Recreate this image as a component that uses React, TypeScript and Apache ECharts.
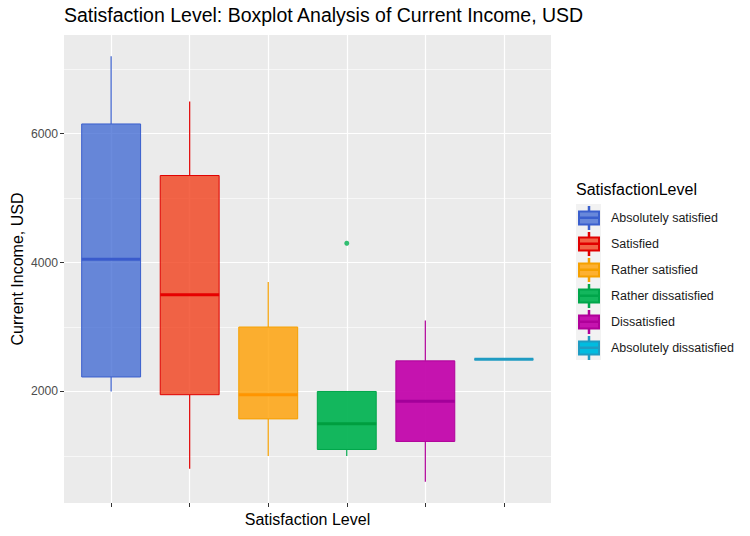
import React, { useEffect, useRef } from "react";
import * as echarts from "echarts";

// satisfaction levels, in axis order
const levels = [
  "Absolutely satisfied",
  "Satisfied",
  "Rather satisfied",
  "Rather dissatisfied",
  "Dissatisfied",
  "Absolutely dissatisfied",
];

// [lower whisker, Q1, median, Q3, upper whisker] per level, USD
const boxStats = [
  [2000, 2225, 4050, 6150, 7200],
  [800, 1950, 3500, 5350, 6500],
  [1000, 1575, 1950, 3000, 3700],
  [1000, 1100, 1500, 2000, 2000],
  [600, 1225, 1850, 2475, 3100],
  [2500, 2500, 2500, 2500, 2500],
];

// outliers: [level position, value]
const outliers = [[4, 4300]];

const yTicks = [2000, 4000, 6000];
const yMinorLines = [1000, 3000, 5000, 7000];

const fills = [
  "rgba(58,100,210,0.75)",
  "rgba(241,64,27,0.8)",
  "rgba(255,159,0,0.8)",
  "rgba(0,178,80,0.92)",
  "rgba(193,0,169,0.92)",
  "rgba(0,188,224,1)",
];
const strokes = ["#3A5FCD", "#E00000", "#F5A000", "#00A64A", "#B0009A", "#1F9BC2"];
const medians = ["#3A5BCC", "#E60000", "#FF9500", "#009E3F", "#A3009A", "#1F9BC2"];

const BOX_WIDTH = 0.75;
const FONT = "Liberation Sans, Arial, sans-serif";
const legendIcon =
  "path://M0,4.5 H20 V17.5 H0 Z M0,10.5 H20 V11 H0 Z M9.75,0 H10.25 V4.5 H9.75 Z M9.75,17.5 H10.25 V22 H9.75 Z";

const App: React.FC = () => {
  const chartRef = useRef<HTMLDivElement>(null);

  useEffect(() => {
    document.body.style.margin = "0";
    if (!chartRef.current) return;
    const chart = echarts.init(chartRef.current, undefined, { renderer: "svg" });

    const boxSeries = levels.map((name, i) => ({
      name,
      type: "custom" as const,
      itemStyle: { color: fills[i], borderColor: strokes[i], borderWidth: 1 },
      data: [[i + 1, ...boxStats[i]]],
      encode: { x: 0, y: [1, 2, 3, 4, 5] },
      z: 3,
      renderItem: (params: any, api: any) => {
        const x = api.value(0);
        const half = api.size([BOX_WIDTH, 0])[0] / 2;
        const pLo = api.coord([x, api.value(1)]);
        const pQ1 = api.coord([x, api.value(2)]);
        const pMed = api.coord([x, api.value(3)]);
        const pQ3 = api.coord([x, api.value(4)]);
        const pHi = api.coord([x, api.value(5)]);
        const cx = pMed[0];
        return {
          type: "group",
          children: [
            {
              type: "line",
              shape: { x1: cx, y1: pHi[1], x2: cx, y2: pQ3[1] },
              style: { stroke: strokes[i], lineWidth: 1.2 },
            },
            {
              type: "line",
              shape: { x1: cx, y1: pQ1[1], x2: cx, y2: pLo[1] },
              style: { stroke: strokes[i], lineWidth: 1.2 },
            },
            {
              type: "rect",
              shape: { x: cx - half, y: pQ3[1], width: half * 2, height: pQ1[1] - pQ3[1] },
              style: { fill: fills[i], stroke: strokes[i], lineWidth: 1 },
            },
            {
              type: "line",
              shape: { x1: cx - half, y1: pMed[1], x2: cx + half, y2: pMed[1] },
              style: { stroke: medians[i], lineWidth: 3 },
            },
          ],
        };
      },
    }));

    const option: echarts.EChartsOption = {
      animation: false,
      textStyle: { fontFamily: FONT },
      title: {
        text: "Satisfaction Level: Boxplot Analysis of Current Income, USD",
        left: 64,
        top: 5,
        padding: 0,
        textStyle: { fontSize: 19.5, fontWeight: "normal", color: "#000" },
      },
      grid: {
        left: 64,
        right: 199,
        top: 35,
        bottom: 33,
        outerBoundsMode: "none",
        containLabel: false,
        show: true,
        backgroundColor: "#EBEBEB",
        borderWidth: 0,
      } as any,
      xAxis: {
        type: "value",
        min: 0.4,
        max: 6.6,
        name: "Satisfaction Level",
        nameLocation: "middle",
        nameGap: 8,
        nameMoveOverlap: false,
        nameTextStyle: { fontSize: 16, color: "#000", verticalAlign: "top" },
        axisLine: { show: false },
        axisTick: {
          show: true,
          length: 4,
          customValues: levels.map((_, i) => i + 1),
          lineStyle: { color: "#333" },
        },
        axisLabel: { show: false, customValues: levels.map((_, i) => i + 1) },
        splitLine: { show: true, lineStyle: { color: "#FFFFFF", width: 1.2 } },
      } as any,
      yAxis: {
        type: "value",
        min: 270,
        max: 7530,
        name: "Current Income, USD",
        nameLocation: "middle",
        nameGap: 39,
        nameMoveOverlap: false,
        nameTextStyle: { fontSize: 16, color: "#000" },
        axisLine: { show: false },
        axisTick: { show: true, length: 4, customValues: yTicks, lineStyle: { color: "#333" } },
        axisLabel: {
          customValues: yTicks,
          fontSize: 12.2,
          color: "#4D4D4D",
          margin: 6,
          formatter: (v: number) => String(v),
        },
        splitLine: { show: true, lineStyle: { color: "#FFFFFF", width: 1.2 } },
      } as any,
      legend: {
        orient: "vertical",
        left: 578,
        top: 206,
        padding: 0,
        itemWidth: 20,
        itemHeight: 22,
        itemGap: 2,
        icon: legendIcon,
        data: levels,
        selectedMode: false,
        textStyle: { fontSize: 12.5, color: "#1A1A1A", padding: [0, 0, 0, 7] },
      },
      graphic: [
        {
          type: "rect",
          left: 576,
          top: 204,
          z: 0,
          shape: { width: 25, height: 156 },
          style: { fill: "#F2F2F2" },
        },
        {
          type: "text",
          left: 576,
          top: 181,
          style: {
            text: "SatisfactionLevel",
            fontSize: 16,
            fill: "#000",
            fontFamily: FONT,
          },
        },
      ],
      series: [
        {
          name: "outliers",
          type: "scatter",
          data: outliers,
          symbolSize: 5,
          itemStyle: { color: "#00B050" },
          z: 4,
          markLine: {
            silent: true,
            symbol: "none",
            label: { show: false },
            lineStyle: { color: "#FFFFFF", width: 0.6, type: "solid" },
            data: yMinorLines.map((v) => ({ yAxis: v })),
            z: 1,
          },
        },
        ...boxSeries,
      ] as any,
    };

    chart.setOption(option);
    return () => chart.dispose();
  }, []);

  return <div ref={chartRef} style={{ width: "750px", height: "536px" }} />;
};

export default App;
